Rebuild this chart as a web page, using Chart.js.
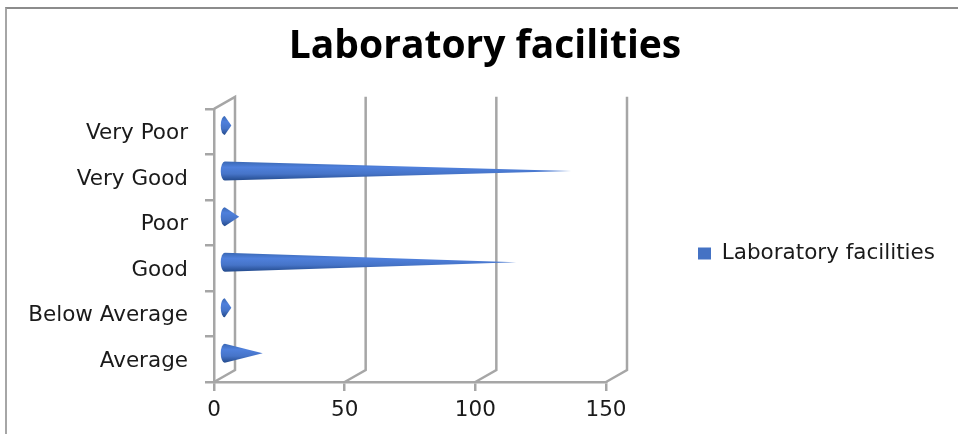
<!DOCTYPE html>
<html>
<head>
<meta charset="utf-8">
<style>
  html, body { margin: 0; padding: 0; background: #fff; }
  #wrap { width: 958px; height: 434px; position: relative; overflow: hidden; }
  #frame { position: absolute; left: 5px; top: 7px; width: 960px; height: 440px;
           border-top: 2px solid #8c8c8c; border-left: 2px solid #a6a6a6; }
</style>
<script src="https://cdn.jsdelivr.net/npm/chart.js@4"></script>
</head>
<body>
<div id="wrap"><div id="frame"></div><canvas id="chart"></canvas></div>
<script>
const categories = ['Very Poor', 'Very Good', 'Poor', 'Good', 'Below Average', 'Average'];
const values = [3, 133, 6, 112, 3, 15];
const seriesName = 'Laboratory facilities';
const xTicks = [0, 50, 100, 150];

// depth of the fake 3d box, in px
const depthX = 21;
const depthY = 12;
const wallColor = '#a6a6a6';
const textColor = '#1a1a1a';

const walls = {
  id: 'walls',
  beforeInit(chart) {
    // reserve the whole gap right of the plot for the legend
    const fit = chart.legend.fit;
    chart.legend.fit = function () {
      fit.call(this);
      this.width = 326;
    };
  },
  afterLayout(chart) {
    // legend clips to its own box, so move all four sides
    chart.legend.left += 84;
    chart.legend.right += 26;
    chart.legend.top += 25;
    chart.legend.bottom += 25;
    chart.titleBlock.left += 13;
    chart.titleBlock.right += 13;
  },
  beforeDatasetsDraw(chart) {
    const { ctx, scales: { x }, chartArea: { top, bottom } } = chart;
    ctx.save();
    ctx.strokeStyle = wallColor;
    ctx.lineWidth = 2.5;
    xTicks.forEach((t) => {
      const px = x.getPixelForValue(t);
      ctx.beginPath();
      ctx.moveTo(px, bottom);
      ctx.lineTo(px + depthX, bottom - depthY);
      ctx.lineTo(px + depthX, top - depthY);
      if (t === 0) ctx.lineTo(px, top);
      ctx.stroke();
    });
    ctx.restore();
  },
  beforeDatasetDraw(chart) {
    const { ctx } = chart;
    chart.getDatasetMeta(0).data.forEach((bar) => {
      const base = bar.base + depthX / 2 - 1;
      const tip = bar.x + depthX / 2 - 1;
      const cy = bar.y - depthY / 2;
      const r = 9.5;
      const rx = 4;
      const g = ctx.createLinearGradient(0, cy - r, 0, cy + r);
      g.addColorStop(0, '#3a68b4');
      g.addColorStop(0.3, '#4f80dc');
      g.addColorStop(0.65, '#4674c8');
      g.addColorStop(1, '#234a8c');
      ctx.save();
      ctx.fillStyle = g;
      ctx.beginPath();
      ctx.ellipse(base, cy, rx, r, 0, Math.PI / 2, Math.PI * 1.5);
      ctx.lineTo(tip, cy);
      ctx.closePath();
      ctx.fill();
      ctx.restore();
    });
    return false; // cones replace the flat bars
  }
};

new Chart(document.getElementById('chart'), {
  type: 'bar',
  data: {
    labels: categories,
    datasets: [{ label: seriesName, data: values, backgroundColor: '#4472c4', borderWidth: 0 }]
  },
  plugins: [walls],
  options: {
    indexAxis: 'y',
    responsive: true,
    maintainAspectRatio: false,
    animation: false,
    layout: { padding: { left: 12, right: 26, top: 23, bottom: 0 } },
    plugins: {
      title: {
        display: true,
        text: seriesName,
        color: '#000',
        font: { family: 'Open Sans', size: 39, weight: 'bold' },
        padding: { top: 0, bottom: 39 }
      },
      legend: {
        position: 'right',
        labels: {
          color: textColor,
          boxWidth: 13,
          boxHeight: 12,
          padding: 8,
          font: { family: 'DejaVu Sans', size: 21.5 }
        }
      },
      tooltip: { enabled: false }
    },
    scales: {
      x: {
        min: 0,
        max: 150,
        afterBuildTicks(axis) { axis.ticks = xTicks.map((value) => ({ value })); },
        afterFit(axis) { axis.height = 52; },
        grid: { drawOnChartArea: false, color: wallColor, lineWidth: 2.5, tickLength: 9 },
        border: { color: wallColor, width: 2.5 },
        ticks: { color: textColor, padding: 7, maxRotation: 0, font: { family: 'DejaVu Sans', size: 21.5 } }
      },
      y: {
        afterFit(axis) { axis.width = 202; },
        grid: { drawOnChartArea: false, color: wallColor, lineWidth: 2.5, tickLength: 9 },
        border: { color: wallColor, width: 2.5 },
        ticks: { color: textColor, padding: 17, labelOffset: 2, font: { family: 'DejaVu Sans', size: 21.5 } }
      }
    }
  }
});
</script>
</body>
</html>
